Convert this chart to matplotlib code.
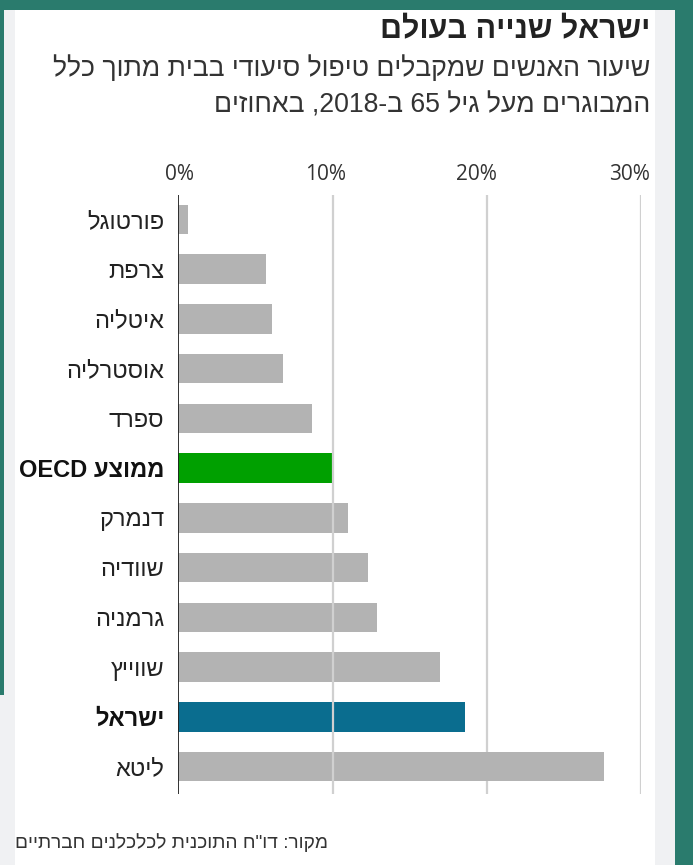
import re
import matplotlib
matplotlib.use("Agg")
import matplotlib.pyplot as plt
from matplotlib.patches import Rectangle
from matplotlib.transforms import ScaledTranslation

# ---- data ----
countries = ["פורטוגל", "צרפת", "איטליה", "אוסטרליה", "ספרד", "ממוצע OECD",
             "דנמרק", "שוודיה", "גרמניה", "שווייץ", "ישראל", "ליטא"]
values = [0.6, 5.7, 6.1, 6.8, 8.7, 10.0, 11.0, 12.3, 12.9, 17.0, 18.6, 27.6]
highlight = {"ממוצע OECD": "#00a000", "ישראל": "#0a6d8f"}
x_ticks = [0, 10, 20, 30]
x_tick_labels = ["0%", "10%", "20%", "30%"]

title = "ישראל שנייה בעולם"
subtitle_1 = "שיעור האנשים שמקבלים טיפול סיעודי בבית מתוך כלל"
subtitle_2 = "המבוגרים מעל גיל 65 ב-2018, באחוזים"
source = "מקור: דו\"ח התוכנית לכלכלנים חברתיים"

HEB = ["Liberation Sans Narrow", "Liberation Sans", "DejaVu Sans"]
NUM = ["Open Sans", "DejaVu Sans"]


def visual(s):
    """Matplotlib lays text out left-to-right; flip RTL text into display order."""
    r = s[::-1]
    return re.sub(r"[0-9A-Za-z]+", lambda m: m.group(0)[::-1], r)


W, H = 693, 865
fig = plt.figure(figsize=(W / 100, H / 100), dpi=100, facecolor="#2a7b6d")


def fx(px):
    return px / W


def fy(py):
    return 1 - py / H


# card background
for x0, x1, y0, col in [(4, 675, 10, "#f0f1f3"), (0, 4, 695, "#f0f1f3"),
                        (15, 655, 10, "white")]:
    fig.patches.append(Rectangle((fx(x0), fy(H)), fx(x1 - x0), fy(y0) - fy(H),
                                 transform=fig.transFigure, facecolor=col,
                                 edgecolor="none", zorder=-5))

# ---- axes ----
ax_left, ax_right, ax_top, ax_bottom = 178.3, 641, 195, 794
ax = fig.add_axes([fx(ax_left), fy(ax_bottom), fx(ax_right - ax_left),
                   fy(ax_top) - fy(ax_bottom)])
ax.set_facecolor("none")
ax.set_zorder(2)

ypos = list(range(len(countries)))
colors = [highlight.get(c, "#b3b3b3") for c in countries]
ax.barh(ypos, values, height=0.59, color=colors, zorder=2)

ax.set_xlim(0, 30)
ax.set_ylim(11.55, -0.49)

for t in x_ticks[1:]:
    ax.axvline(t, color="#d0d0d0", lw=1.6, zorder=3 if t == 10 else 1)
ax.axvline(0, color="#222222", lw=1.3, zorder=4)

for s in ax.spines.values():
    s.set_visible(False)

ax.xaxis.tick_top()
ax.set_xticks(x_ticks)
ax.set_xticklabels(x_tick_labels, fontsize=15, color="#333333", family=NUM)
ax.tick_params(axis="x", length=0, pad=7.5)
for lab, dx in zip(ax.get_xticklabels(), [1, -7, -10, -12]):
    lab.set_transform(lab.get_transform() + ScaledTranslation(dx / 100, 0, fig.dpi_scale_trans))

ax.set_yticks(ypos)
ax.set_yticklabels([visual(c) for c in countries], fontsize=17, color="#222222",
                   family=HEB)
ax.tick_params(axis="y", length=0, pad=10)
for lab, c in zip(ax.get_yticklabels(), countries):
    if c in highlight:
        lab.set_fontweight("bold")
        lab.set_color("#111111")

# ---- titles ----
fig.text(fx(650), fy(30), visual(title), ha="right", va="center",
         fontsize=22, fontweight="bold", color="#222222", family=HEB)
fig.text(fx(650), fy(69), visual(subtitle_1), ha="right", va="center",
         fontsize=19.2, color="#333333", family=HEB)
fig.text(fx(650), fy(105), visual(subtitle_2), ha="right", va="center",
         fontsize=19.2, color="#333333", family=HEB)
fig.text(fx(15), fy(843), visual(source), ha="left", va="center",
         fontsize=13.8, color="#333333", family=HEB)

fig.savefig("out.png", dpi=100, facecolor=fig.get_facecolor())
